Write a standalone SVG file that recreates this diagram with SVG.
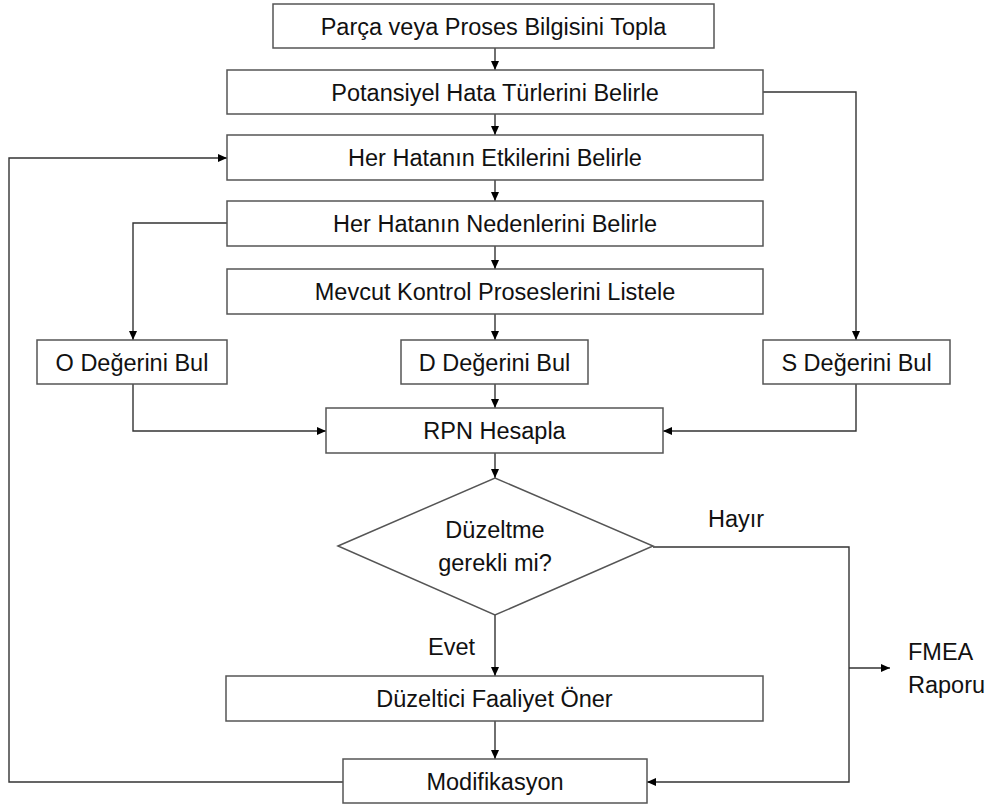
<svg xmlns="http://www.w3.org/2000/svg" width="994" height="807" viewBox="0 0 994 807">
<style>
.box{fill:#fff;stroke:#555;stroke-width:1.5}
.t{font-family:"Liberation Sans",Arial,sans-serif;font-size:23.5px;fill:#111;text-anchor:middle}
.l{font-family:"Liberation Sans",Arial,sans-serif;font-size:23.5px;fill:#111}
.c{fill:none;stroke:#333;stroke-width:1.4}
</style>
<defs>
<marker id="ah" markerUnits="userSpaceOnUse" markerWidth="10" markerHeight="10" refX="9" refY="4" orient="auto">
<path d="M0,0 L9,4 L0,8 z" fill="#000"/>
</marker>
</defs>
<rect width="994" height="807" fill="#fff"/>
<g id="connectors">
<path class="c" d="M495,48 V70" marker-end="url(#ah)"/>
<path class="c" d="M495,114 V135" marker-end="url(#ah)"/>
<path class="c" d="M495,180 V201" marker-end="url(#ah)"/>
<path class="c" d="M495,246 V269" marker-end="url(#ah)"/>
<path class="c" d="M495,314 V340" marker-end="url(#ah)"/>
<path class="c" d="M495,384 V408" marker-end="url(#ah)"/>
<path class="c" d="M495,453 V478" marker-end="url(#ah)"/>
<path class="c" d="M495,615 V676" marker-end="url(#ah)"/>
<path class="c" d="M495,721 V759" marker-end="url(#ah)"/>
<path class="c" d="M227,223 H133 V340" marker-end="url(#ah)"/>
<path class="c" d="M763,92 H856 V340" marker-end="url(#ah)"/>
<path class="c" d="M133,384 V431 H326" marker-end="url(#ah)"/>
<path class="c" d="M856,384 V431 H663" marker-end="url(#ah)"/>
<path class="c" d="M653,547 H849 V782 H647" marker-end="url(#ah)"/>
<path class="c" d="M849,668 H890" marker-end="url(#ah)"/>
<path class="c" d="M343,782 H9 V158 H227" marker-end="url(#ah)"/>
</g>
<g id="n1"><rect class="box" x="273" y="4" width="441" height="44"/><text class="t" x="493.5" y="34.5">Parça veya Proses Bilgisini Topla</text></g>
<g id="n2"><rect class="box" x="227" y="70" width="536" height="44"/><text class="t" x="495" y="100.5">Potansiyel Hata Türlerini Belirle</text></g>
<g id="n3"><rect class="box" x="227" y="135" width="536" height="45"/><text class="t" x="495" y="166">Her Hatanın Etkilerini Belirle</text></g>
<g id="n4"><rect class="box" x="227" y="201" width="536" height="45"/><text class="t" x="495" y="232">Her Hatanın Nedenlerini Belirle</text></g>
<g id="n5"><rect class="box" x="227" y="269" width="536" height="45"/><text class="t" x="495" y="300">Mevcut Kontrol Proseslerini Listele</text></g>
<g id="nO"><rect class="box" x="37" y="340" width="190" height="44"/><text class="t" x="132" y="370.5">O Değerini Bul</text></g>
<g id="nD"><rect class="box" x="401" y="340" width="187" height="44"/><text class="t" x="494.5" y="370.5">D Değerini Bul</text></g>
<g id="nS"><rect class="box" x="763" y="340" width="187" height="44"/><text class="t" x="856.5" y="370.5">S Değerini Bul</text></g>
<g id="nRPN"><rect class="box" x="326" y="408" width="337" height="45"/><text class="t" x="494.5" y="439">RPN Hesapla</text></g>
<g id="nDec"><polygon class="box" points="338,546 495,478 653,546 495,615"/><text class="t" x="495" y="538">Düzeltme</text><text class="t" x="495" y="571">gerekli mi?</text></g>
<g id="nFix"><rect class="box" x="226" y="676" width="537" height="45"/><text class="t" x="494.5" y="707">Düzeltici Faaliyet Öner</text></g>
<g id="nMod"><rect class="box" x="343" y="759" width="304" height="44"/><text class="t" x="495" y="789.5">Modifikasyon</text></g>
<g id="labels">
<text class="l" x="708" y="527">Hayır</text>
<text class="l" x="428" y="655">Evet</text>
<text class="l" x="908" y="660">FMEA</text>
<text class="l" x="908" y="693">Raporu</text>
</g>
</svg>
